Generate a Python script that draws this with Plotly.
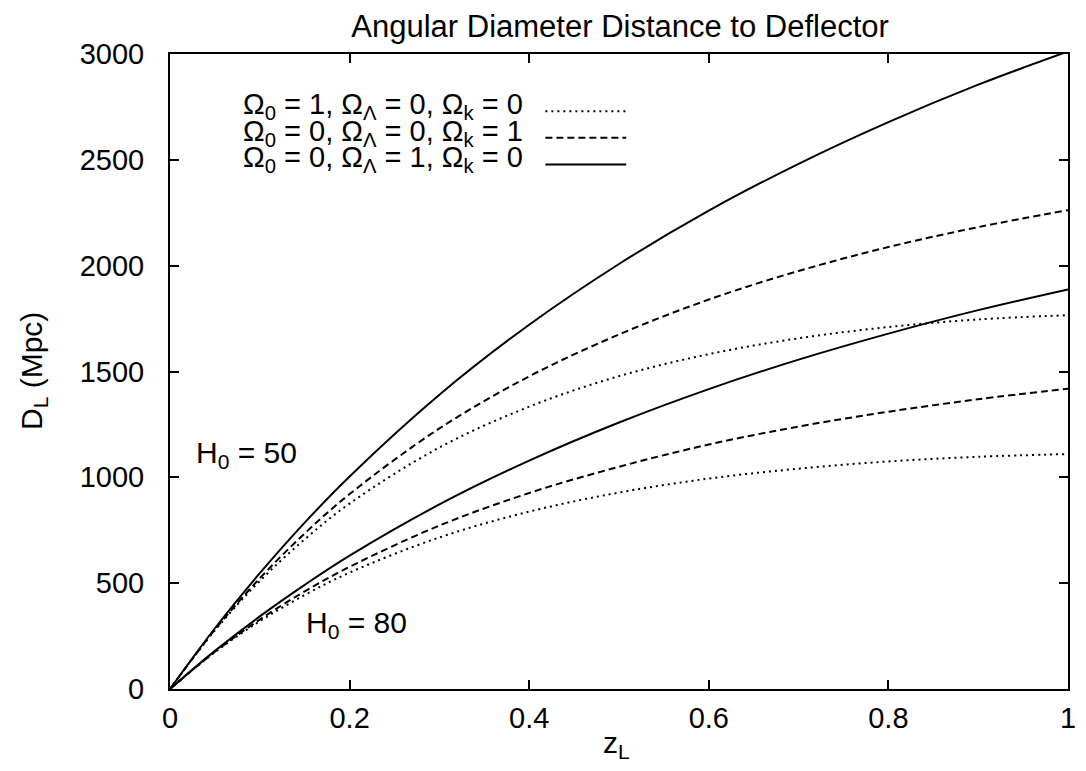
import plotly.graph_objects as go

# Deflector redshift grid
z_l = [0, 0.05, 0.1, 0.15, 0.2, 0.3, 0.4, 0.5, 0.6, 0.7, 0.8, 0.9, 1.0]

# Angular diameter distance (Mpc), H0 = 50
lambda_h50 = [0, 287, 547, 786, 1004, 1390, 1721, 2008, 2260, 2481, 2678, 2855, 3012]
open_h50 = [0, 280, 523, 735, 921, 1231, 1477, 1675, 1840, 1975, 2088, 2182, 2262]
eds_h50 = [0, 277, 510, 707, 876, 1141, 1334, 1478, 1582, 1657, 1710, 1746, 1766]

# Angular diameter distance (Mpc), H0 = 80
lambda_h80 = [0, 180, 343, 492, 630, 872, 1079, 1259, 1417, 1556, 1679, 1790, 1888]
open_h80 = [0, 176, 328, 461, 577, 772, 926, 1050, 1155, 1240, 1310, 1369, 1419]
eds_h80 = [0, 174, 320, 444, 550, 716, 838, 928, 994, 1041, 1075, 1097, 1110]

legend_labels = [
    "Ω<sub>0</sub> = 1, Ω<sub>Λ</sub> = 0, Ω<sub>k</sub> = 0",
    "Ω<sub>0</sub> = 0, Ω<sub>Λ</sub> = 0, Ω<sub>k</sub> = 1",
    "Ω<sub>0</sub> = 0, Ω<sub>Λ</sub> = 1, Ω<sub>k</sub> = 0",
]
x_ticks = [0, 0.2, 0.4, 0.6, 0.8, 1]
x_tick_text = ["0", "0.2", "0.4", "0.6", "0.8", "1"]
y_ticks = [0, 500, 1000, 1500, 2000, 2500, 3000]

FONT = "Liberation Sans, Arial, Helvetica, sans-serif"
FS_TICK = 29
FS_TEXT = 30
FS_TITLE = 31
DOT = "2px,4px"
DASH = "7px,4px"

styles = [
    dict(width=2, color="black", dash=DOT),
    dict(width=2, color="black", dash=DASH),
    dict(width=2, color="black", dash="solid"),
]


def txt_font(size):
    return dict(size=size, family=FONT, color="black")


fig = go.Figure()
for series in ([eds_h50, open_h50, lambda_h50], [eds_h80, open_h80, lambda_h80]):
    for ys, st, name in zip(series, styles, legend_labels):
        fig.add_trace(go.Scatter(
            x=z_l, y=ys, mode="lines", name=name,
            line=dict(shape="spline", **st), showlegend=False,
        ))

# Key: labels on the left, line samples on the right
row_y = [0.918, 0.876, 0.834]
for label, st, yy in zip(legend_labels, styles, row_y):
    fig.add_annotation(xref="paper", yref="paper", x=0.395, y=yy,
                       text=label, showarrow=False, xanchor="right",
                       yanchor="middle", font=txt_font(FS_TICK))
    fig.add_shape(type="line", xref="paper", yref="paper",
                  x0=0.418, x1=0.508, y0=yy - 0.008, y1=yy - 0.008,
                  line=st)

# Hubble constant labels
fig.add_annotation(x=0.027, y=1110, text="H<sub>0</sub> = 50", showarrow=False,
                   xanchor="left", yanchor="middle", font=txt_font(FS_TEXT))
fig.add_annotation(x=0.149, y=305, text="H<sub>0</sub> = 80", showarrow=False,
                   xanchor="left", yanchor="middle", font=txt_font(FS_TEXT))

# Axis titles
fig.add_annotation(xref="paper", yref="paper", x=-0.152, y=0.5,
                   text="D<sub>L</sub> (Mpc)", textangle=-90, showarrow=False,
                   xanchor="center", yanchor="middle", font=txt_font(FS_TEXT))
fig.add_annotation(xref="paper", yref="paper", x=0.497, y=-0.087,
                   text="z<sub>L</sub>", showarrow=False,
                   xanchor="center", yanchor="middle", font=txt_font(FS_TEXT))

axis_common = dict(
    showgrid=False, zeroline=False, showline=True, linecolor="black",
    linewidth=2, mirror="ticks", ticks="inside", ticklen=9, tickwidth=1.5,
    tickcolor="black", tickfont=txt_font(FS_TICK),
)

fig.update_layout(
    width=1086, height=771,
    margin=dict(l=170, r=10, t=54, b=82),
    paper_bgcolor="white", plot_bgcolor="white",
    title=dict(text="Angular Diameter Distance to Deflector",
               x=0.571, xanchor="center", y=0.966, yanchor="middle",
               font=txt_font(FS_TITLE)),
    xaxis=dict(range=[0, 1], tickvals=x_ticks, ticktext=x_tick_text,
               ticklabelstandoff=2, **axis_common),
    yaxis=dict(range=[0, 3000], tickvals=y_ticks,
               ticklabelstandoff=18, **axis_common),
)

fig.write_html("out.html")
